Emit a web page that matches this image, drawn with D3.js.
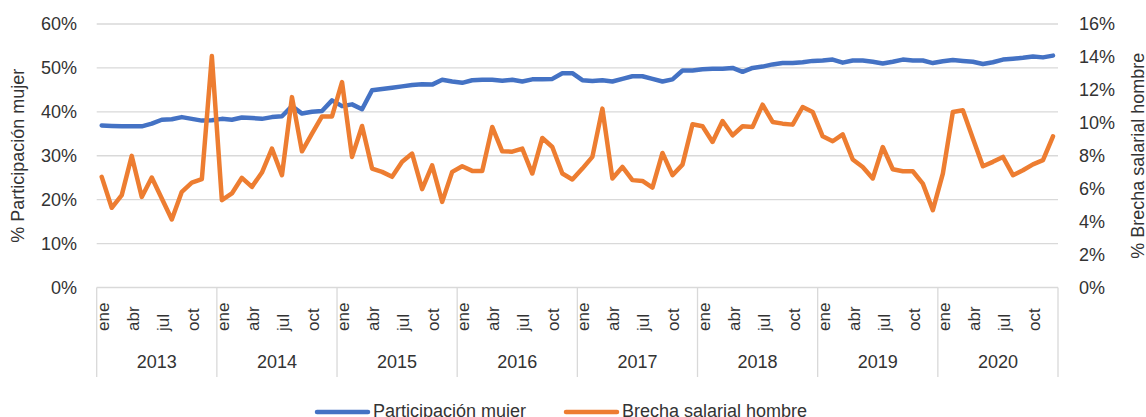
<!DOCTYPE html>
<html>
<head>
<meta charset="utf-8">
<script src="https://cdn.jsdelivr.net/npm/d3@7"></script>
<style>
  body { margin: 0; background: #fff; }
  text { font-family: "Liberation Sans", Arial, sans-serif; fill: #333; }
</style>
</head>
<body>
<script>
var w = 1146;
var h = 417;

var years = [2013, 2014, 2015, 2016, 2017, 2018, 2019, 2020];
var months = ['ene', 'feb', 'mar', 'abr', 'may', 'jun', 'jul', 'ago', 'sep', 'oct', 'nov', 'dic'];
var shownMonths = ['ene', 'abr', 'jul', 'oct'];
var leftTicks = [0, 10, 20, 30, 40, 50, 60];
var rightTicks = [0, 2, 4, 6, 8, 10, 12, 14, 16];
var seriesNames = ['Participación mujer', 'Brecha salarial hombre'];

// % participacion mujer (eje izquierdo)
var participacion = [
  36.9, 36.8, 36.7, 36.7, 36.7, 37.3, 38.2, 38.3, 38.8, 38.4, 38.0, 38.1,
  38.4, 38.2, 38.7, 38.6, 38.4, 38.8, 39.0, 41.3, 39.6, 40.0, 40.2, 42.6,
  41.3, 41.7, 40.6, 44.9, 45.2, 45.5, 45.8, 46.1, 46.3, 46.2, 47.3, 46.9,
  46.6, 47.2, 47.3, 47.3, 47.1, 47.3, 46.9, 47.4, 47.4, 47.5, 48.8, 48.8,
  47.2, 47.0, 47.2, 46.9, 47.5, 48.1, 48.1, 47.5, 46.9, 47.4, 49.4, 49.4,
  49.7, 49.8, 49.8, 50.0, 49.1, 50.0, 50.3, 50.8, 51.1, 51.1, 51.3, 51.6,
  51.7, 51.9, 51.2, 51.7, 51.7, 51.4, 51.0, 51.4, 51.9, 51.7, 51.7, 51.1,
  51.5, 51.8, 51.6, 51.4, 50.9, 51.3, 51.9, 52.1, 52.3, 52.6, 52.4, 52.8
];

// % brecha salarial hombre (eje derecho)
var brecha = [
  6.72, 4.84, 5.61, 7.99, 5.50, 6.68, 5.40, 4.13, 5.81, 6.37, 6.58, 14.05,
  5.30, 5.71, 6.66, 6.11, 6.98, 8.43, 6.82, 11.56, 8.27, 9.34, 10.39, 10.39,
  12.47, 7.93, 9.81, 7.22, 7.02, 6.72, 7.63, 8.13, 5.97, 7.42, 5.20, 7.02,
  7.36, 7.08, 7.08, 9.75, 8.27, 8.25, 8.43, 6.92, 9.08, 8.53, 6.92, 6.56,
  7.22, 7.93, 10.86, 6.62, 7.32, 6.52, 6.47, 6.07, 8.17, 6.82, 7.46, 9.91,
  9.79, 8.84, 10.11, 9.24, 9.79, 9.75, 11.10, 10.05, 9.95, 9.89, 10.96, 10.66,
  9.18, 8.88, 9.30, 7.77, 7.32, 6.62, 8.53, 7.18, 7.06, 7.06, 6.31, 4.70,
  6.92, 10.66, 10.76, 9.04, 7.36, 7.63, 7.93, 6.82, 7.12, 7.48, 7.73, 9.18
];

var blue = '#4472C4';
var orange = '#ED7D31';
var grid = '#d9d9d9';

// plot box (top is reserved by window, so plotTop)
var plotLeft = 96.7, plotRight = 1058, plotTop = 24, plotBottom = 287.5;

// one category per month
var cats = [];
years.forEach(function(y){
  months.forEach(function(m){ cats.push(y + '-' + m); });
});

var x = d3.scaleBand().domain(cats).range([plotLeft, plotRight]).padding(0);
var xYear = d3.scaleBand().domain(years).range([plotLeft, plotRight]).padding(0);
var yL = d3.scaleLinear().domain([0, 60]).range([plotBottom, plotTop]);
var yR = d3.scaleLinear().domain([0, 16]).range([plotBottom, plotTop]);

var svg = d3.select('body').append('svg')
    .attr('width', w)
    .attr('height', h);

// gridlines
svg.selectAll('line.grid').data(leftTicks).enter().append('line')
    .attr('class', 'grid')
    .attr('x1', plotLeft).attr('x2', plotRight)
    .attr('y1', function(d){ return yL(d); })
    .attr('y2', function(d){ return yL(d); })
    .attr('stroke', grid).attr('stroke-width', 1.3);

// left axis labels
svg.selectAll('text.yl').data(leftTicks).enter().append('text')
    .attr('class', 'yl')
    .attr('x', 77).attr('y', function(d){ return yL(d); })
    .attr('dy', '0.35em')
    .attr('text-anchor', 'end')
    .style('font-size', '18px')
    .text(function(d){ return d + '%'; });

// right axis labels
svg.selectAll('text.yr').data(rightTicks).enter().append('text')
    .attr('class', 'yr')
    .attr('x', 1079).attr('y', function(d){ return yR(d); })
    .attr('dy', '0.35em')
    .attr('text-anchor', 'start')
    .style('font-size', '18px')
    .text(function(d){ return d + '%'; });

// axis titles
var midY = (plotTop + plotBottom) / 2;
svg.append('text')
    .attr('transform', 'translate(24,' + midY + ') rotate(-90)')
    .attr('text-anchor', 'middle')
    .style('font-size', '18px')
    .text('% Participación mujer');
svg.append('text')
    .attr('transform', 'translate(1143.5,' + midY + ') rotate(-90)')
    .attr('text-anchor', 'middle')
    .style('font-size', '18px')
    .text('% Brecha salarial hombre');

// category axis: year separators
var seps = years.map(function(y){ return xYear(y); }).concat([plotRight]);
svg.selectAll('line.sep').data(seps).enter().append('line')
    .attr('class', 'sep')
    .attr('x1', function(d){ return d; }).attr('x2', function(d){ return d; })
    .attr('y1', plotBottom).attr('y2', 377)
    .attr('stroke', grid).attr('stroke-width', 1.3);

// month labels
var monthCats = cats.filter(function(c){
  return shownMonths.indexOf(c.split('-')[1]) >= 0;
});
svg.selectAll('text.month').data(monthCats).enter().append('text')
    .attr('class', 'month')
    .attr('transform', function(d){
      var cx = x(d) + x.bandwidth() / 2 + 7;
      return 'translate(' + cx + ',331) rotate(-90)';
    })
    .attr('text-anchor', 'start')
    .style('font-size', '17px')
    .text(function(d){ return d.split('-')[1]; });

// year labels
svg.selectAll('text.year').data(years).enter().append('text')
    .attr('class', 'year')
    .attr('x', function(d){ return xYear(d) + xYear.bandwidth() / 2; })
    .attr('y', 368)
    .attr('text-anchor', 'middle')
    .style('font-size', '18px')
    .text(function(d){ return d; });

// lines
var lineL = d3.line()
    .x(function(d, i){ return x(cats[i]) + x.bandwidth() / 2; })
    .y(function(d){ return yL(d); });
var lineR = d3.line()
    .x(function(d, i){ return x(cats[i]) + x.bandwidth() / 2; })
    .y(function(d){ return yR(d); });

svg.append('path').datum(participacion)
    .attr('d', lineL)
    .attr('fill', 'none').attr('stroke', blue)
    .attr('stroke-width', 4.5)
    .attr('stroke-linejoin', 'round').attr('stroke-linecap', 'round');

svg.append('path').datum(brecha)
    .attr('d', lineR)
    .attr('fill', 'none').attr('stroke', orange)
    .attr('stroke-width', 4.5)
    .attr('stroke-linejoin', 'round').attr('stroke-linecap', 'round');

// legend
var legendX = [317, 566];
var legendColors = [blue, orange];
var lg = svg.selectAll('g.legend').data(seriesNames).enter().append('g')
    .attr('class', 'legend')
    .attr('transform', function(d, i){ return 'translate(' + legendX[i] + ',412)'; });
lg.append('line')
    .attr('x1', 0).attr('x2', 51).attr('y1', 0).attr('y2', 0)
    .attr('stroke', function(d, i){ return legendColors[i]; })
    .attr('stroke-width', 4.5)
    .attr('stroke-linecap', 'round');
lg.append('text')
    .attr('x', 56).attr('y', 5)
    .style('font-size', '18px')
    .text(function(d){ return d; });
</script>
</body>
</html>
